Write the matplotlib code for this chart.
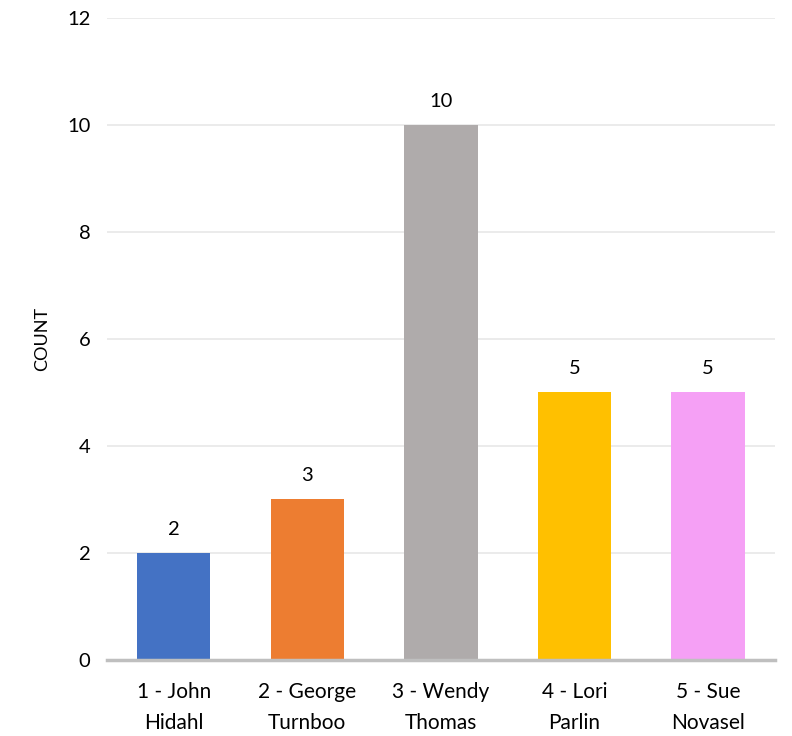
import matplotlib
matplotlib.use("Agg")
import matplotlib.pyplot as plt

categories = ["1 - John\nHidahl", "2 - George\nTurnboo", "3 - Wendy\nThomas", "4 - Lori\nParlin", "5 - Sue\nNovasel"]
values = [2, 3, 10, 5, 5]
colors = ["#4472C4", "#ED7D31", "#AFABAB", "#FFC000", "#F5A0F5"]
y_ticks = [0, 2, 4, 6, 8, 10, 12]

plt.rcParams['font.family'] = ['Lato', 'DejaVu Sans']

fig = plt.figure(figsize=(7.92, 7.36), dpi=100)
ax = fig.add_axes([0.135, 0.1033, 0.8435, 0.8723])

x = range(len(categories))
bars = ax.bar(x, values, width=0.55, color=colors, zorder=3)
for xi, v in zip(x, values):
    ax.annotate(str(v), (xi, v), xytext=(0, 11), textcoords="offset points",
                ha="center", va="bottom", fontsize=14.5, color="#000000")

ax.set_xlim(-0.5, len(categories) - 0.5)
ax.set_ylim(0, 12)
ax.set_yticks(y_ticks)
ax.set_yticklabels([str(t) for t in y_ticks], fontsize=14.5)
ax.set_xticks(list(x))
ax.set_xticklabels(categories, fontsize=15, linespacing=1.7)
ax.tick_params(axis='both', length=0)
ax.tick_params(axis='y', pad=12)
ax.tick_params(axis='x', pad=16)
ax.grid(axis='y', color='#E8E8E8', linewidth=1.2, zorder=0)
for s in ['top', 'right', 'left']:
    ax.spines[s].set_visible(False)
ax.spines['bottom'].set_color('#BFBFBF')
ax.spines['bottom'].set_linewidth(2.5)
ax.spines['bottom'].set_zorder(4)
ax.set_ylabel("COUNT", fontsize=13, labelpad=12)

fig.savefig("out.png", dpi=100)
